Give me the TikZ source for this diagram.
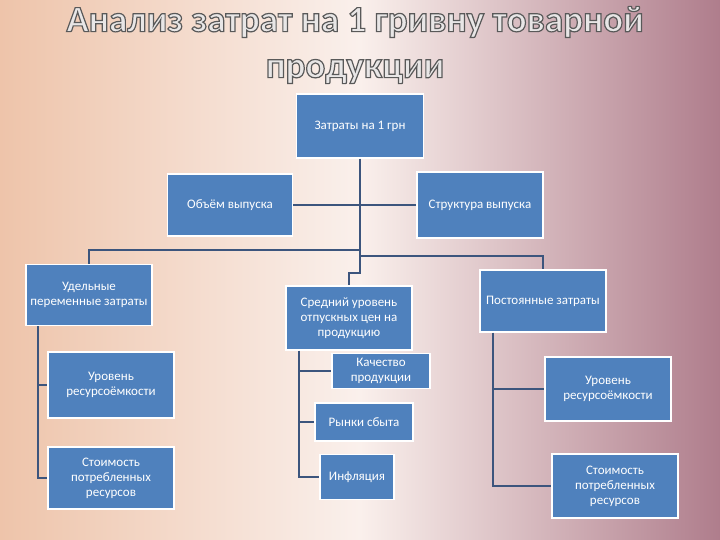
\documentclass[tikz,border=0pt]{standalone}
\usepackage{fontspec}
\setmainfont{Carlito}
\usetikzlibrary{positioning}
\definecolor{boxblue}{RGB}{79,129,189}
\definecolor{linkblue}{RGB}{60,85,125}
\definecolor{peach}{RGB}{238,196,170}
\definecolor{cream}{RGB}{250,240,236}
\definecolor{plum}{RGB}{175,125,140}
\definecolor{titlegray}{RGB}{232,230,230}
\newcommand\outlined[1]{\special{pdf:literal direct 2 Tr 0.35 0.35 0.35 RG 1.2 w}#1\special{pdf:literal direct 0 Tr}}

\begin{document}
\begin{tikzpicture}[x=1pt,y=-1pt,
                    box/.style={draw=white,line width=1.2pt,fill=boxblue,text=white,
                                align=center,font=\fontsize{13}{15}\selectfont,inner sep=1pt},
                    link/.style={draw=linkblue,line width=1.6pt},
                    heading/.style={font=\bfseries\fontsize{37}{46}\selectfont,align=center}]
  % background
  \shade[left color=peach,right color=plum,middle color=cream] (0,0) rectangle (720,540);
  \useasboundingbox (0,0) rectangle (720,540);

  \node[heading,text=titlegray] (title) at (355,45)
        {\outlined{Анализ затрат на 1 гривну товарной}\\\outlined{продукции}};

  \node[box,minimum width=127,minimum height=64] (top)   at (360,126) {Затраты на 1 грн};
  \node[box,minimum width=125,minimum height=62] (vol)   at (230,205) {Объём выпуска};
  \node[box,minimum width=126,minimum height=66] (str)   at (480,205) {Структура выпуска};
  \node[box,minimum width=126,minimum height=61] (var)   at (89,295)  {Удельные\\переменные затраты};
  \node[box,minimum width=126,minimum height=64] (price) at (349,318) {Средний уровень\\отпускных цен на\\продукцию};
  \node[box,minimum width=126,minimum height=62] (fix)   at (543,301) {Постоянные затраты};
  \node[box,minimum width=126,minimum height=66] (resL)  at (111,385) {Уровень\\ресурсоёмкости};
  \node[box,minimum width=126,minimum height=62] (costL) at (111,478) {Стоимость\\потребленных\\ресурсов};
  \node[box,minimum width=98,minimum height=35]  (qual)  at (381,371) {Качество\\продукции};
  \node[box,minimum width=98,minimum height=38]  (mark)  at (364,422) {Рынки сбыта};
  \node[box,minimum width=74,minimum height=45]  (infl)  at (357,477) {Инфляция};
  \node[box,minimum width=126,minimum height=64] (resR)  at (608,389) {Уровень\\ресурсоёмкости};
  \node[box,minimum width=126,minimum height=64] (costR) at (615,486) {Стоимость\\потребленных\\ресурсов};

  \coordinate (trunk) at (360,273);
  \coordinate (left)  at (360,250);
  \coordinate (right) at (360,256);
  \coordinate (colL)  at (38,0);
  \coordinate (colM)  at (299,0);
  \coordinate (colR)  at (493,0);
  \draw[link] (vol) -- (str);
  \draw[link] (top) -- (trunk) -| (price);
  \draw[link] (left) -| (var);
  \draw[link] (right) -| (fix);

  \draw[link] (var.south -| colL) |- (costL.west);
  \draw[link] (colL |- resL.west) -- (resL.west);
  \draw[link] (price.south -| colM) |- (infl.west);
  \draw[link] (colM |- qual.west) -- (qual.west);
  \draw[link] (colM |- mark.west) -- (mark.west);
  \draw[link] (fix.south -| colR) |- (costR.west);
  \draw[link] (colR |- resR.west) -- (resR.west);
\end{tikzpicture}
\end{document}
